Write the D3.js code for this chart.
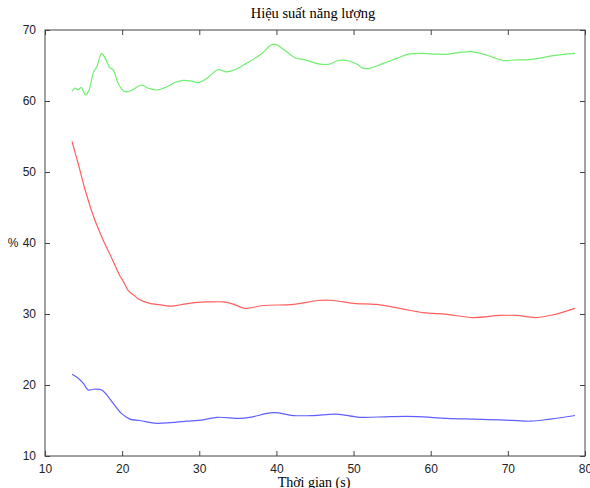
<!DOCTYPE html>
<html>
<head>
<meta charset="utf-8">
<script src="https://cdn.jsdelivr.net/npm/d3@7"></script>
<style>
  body { margin: 0; background: #fff; }
  .tick text { font-family: "Liberation Sans", Arial, sans-serif; font-size: 12px; fill: #222; }
</style>
</head>
<body>
<svg width="590" height="488"></svg>
<script>
// time (s) and efficiency (%)
var greenT = [13.5, 13.9, 14.3, 14.7, 15.0, 15.3, 15.7, 16.3, 16.7, 17.35, 17.8, 18.4, 18.85, 19.4, 20.15, 20.8, 21.45, 22.5, 23.4, 24.5, 25.8, 26.85, 27.9, 29.0, 29.9, 31.0, 32.4, 33.55, 34.85, 36.1, 37.9, 39.6, 40.9, 42.4, 43.7, 45.65, 46.9, 48.0, 49.1, 50.4, 51.3, 52.1, 53.85, 55.6, 57.1, 59.0, 60.8, 62.3, 63.8, 65.3, 66.8, 68.1, 69.4, 71.1, 72.4, 74.2, 75.9, 78.7];
var greenV = [61.4, 61.8, 61.6, 61.9, 61.3, 60.85, 61.5, 64.1, 64.8, 66.7, 66.0, 64.7, 64.4, 62.7, 61.45, 61.3, 61.65, 62.25, 61.8, 61.55, 62.0, 62.6, 62.9, 62.8, 62.6, 63.2, 64.4, 64.1, 64.5, 65.3, 66.5, 68.0, 67.3, 66.1, 65.8, 65.2, 65.2, 65.7, 65.7, 65.2, 64.6, 64.6, 65.3, 66.0, 66.6, 66.7, 66.6, 66.6, 66.85, 66.95, 66.6, 66.15, 65.7, 65.8, 65.8, 66.05, 66.4, 66.7];

var redT = [13.5, 14.3, 15.2, 16.3, 17.55, 18.85, 19.7, 20.15, 20.8, 21.45, 22.3, 23.6, 24.5, 26.4, 27.6, 29.7, 31.4, 33.1, 34.4, 35.9, 38.3, 42.2, 45.4, 47.4, 50.0, 53.0, 56.0, 59.0, 62.1, 65.5, 69.0, 71.1, 73.7, 75.9, 78.7];
var redV = [54.3, 51.2, 47.5, 43.7, 40.4, 37.4, 35.4, 34.6, 33.3, 32.7, 32.0, 31.5, 31.35, 31.1, 31.3, 31.65, 31.7, 31.7, 31.4, 30.8, 31.2, 31.35, 31.9, 31.9, 31.5, 31.35, 30.8, 30.2, 29.95, 29.5, 29.8, 29.8, 29.5, 29.9, 30.8];

var blueT = [13.5, 14.3, 15.0, 15.6, 16.3, 17.35, 18.0, 18.85, 19.9, 21.0, 22.3, 24.5, 26.2, 28.4, 30.5, 32.3, 35.3, 36.6, 39.6, 42.2, 44.8, 47.8, 50.8, 54.7, 58.2, 62.1, 65.5, 69.0, 72.9, 75.5, 78.7];
var blueV = [21.5, 20.95, 20.2, 19.3, 19.4, 19.3, 18.6, 17.4, 16.0, 15.2, 15.0, 14.6, 14.7, 14.9, 15.1, 15.45, 15.3, 15.45, 16.1, 15.7, 15.7, 15.9, 15.45, 15.55, 15.55, 15.3, 15.2, 15.1, 14.9, 15.2, 15.7];

var xTicks = [10, 20, 30, 40, 50, 60, 70, 80];
var yTicks = [10, 20, 30, 40, 50, 60, 70];

var svg = d3.select("svg");
var plotL = 45, plotR = 585, plotT = 30, plotB = 456;

var x = d3.scaleLinear().domain([10, 80]).range([plotL, plotR]);
var y = d3.scaleLinear().domain([10, 70]).range([plotB, plotT]);

var axisColor = "#444";

// box
svg.append("rect").attr("x", plotL).attr("y", plotT)
  .attr("width", plotR - plotL).attr("height", plotB - plotT)
  .attr("fill", "none").attr("stroke", axisColor).attr("stroke-width", 1);

function styleAxis(g) {
  g.select(".domain").remove();
  g.selectAll(".tick line").attr("stroke", axisColor);
}

svg.append("g").attr("transform", "translate(0," + plotB + ")")
  .call(d3.axisBottom(x).tickValues(xTicks).tickSizeInner(-5).tickPadding(8).tickSizeOuter(0))
  .call(styleAxis);
svg.append("g").attr("transform", "translate(0," + plotT + ")")
  .call(d3.axisTop(x).tickValues(xTicks).tickSizeInner(-5).tickSizeOuter(0).tickFormat(""))
  .call(styleAxis);
svg.append("g").attr("transform", "translate(" + plotL + ",0)")
  .call(d3.axisLeft(y).tickValues(yTicks).tickSizeInner(-5).tickPadding(9).tickSizeOuter(0))
  .call(styleAxis);
svg.append("g").attr("transform", "translate(" + plotR + ",0)")
  .call(d3.axisRight(y).tickValues(yTicks).tickSizeInner(-5).tickSizeOuter(0).tickFormat(""))
  .call(styleAxis);

var line = d3.line()
  .x(function (d) { return x(d[0]); })
  .y(function (d) { return y(d[1]); })
  .curve(d3.curveCatmullRom);

var series = [
  { t: greenT, v: greenV, color: "rgb(110,240,110)" },
  { t: redT, v: redV, color: "rgb(255,95,95)" },
  { t: blueT, v: blueV, color: "rgb(95,95,255)" }
];

series.forEach(function (s) {
  var pts = s.t.map(function (t, i) { return [t, s.v[i]]; });
  svg.append("path").datum(pts)
    .attr("d", line)
    .attr("fill", "none")
    .attr("stroke", s.color)
    .attr("stroke-width", 1.2);
});

svg.append("text").attr("x", 313).attr("y", 18)
  .attr("text-anchor", "middle")
  .style("font-family", "'Liberation Serif', 'Times New Roman', serif")
  .style("font-size", "14.5px")
  .text("Hiệu suất năng lượng");

svg.append("text").attr("x", 314).attr("y", 487)
  .attr("text-anchor", "middle")
  .style("font-family", "'Liberation Serif', 'Times New Roman', serif")
  .style("font-size", "14px")
  .text("Thời gian (s)");

svg.append("text").attr("x", 13).attr("y", 247)
  .attr("text-anchor", "middle")
  .style("font-family", "'Liberation Sans', Arial, sans-serif")
  .style("font-size", "12px")
  .attr("fill", "#222")
  .text("%");
</script>
</body>
</html>
